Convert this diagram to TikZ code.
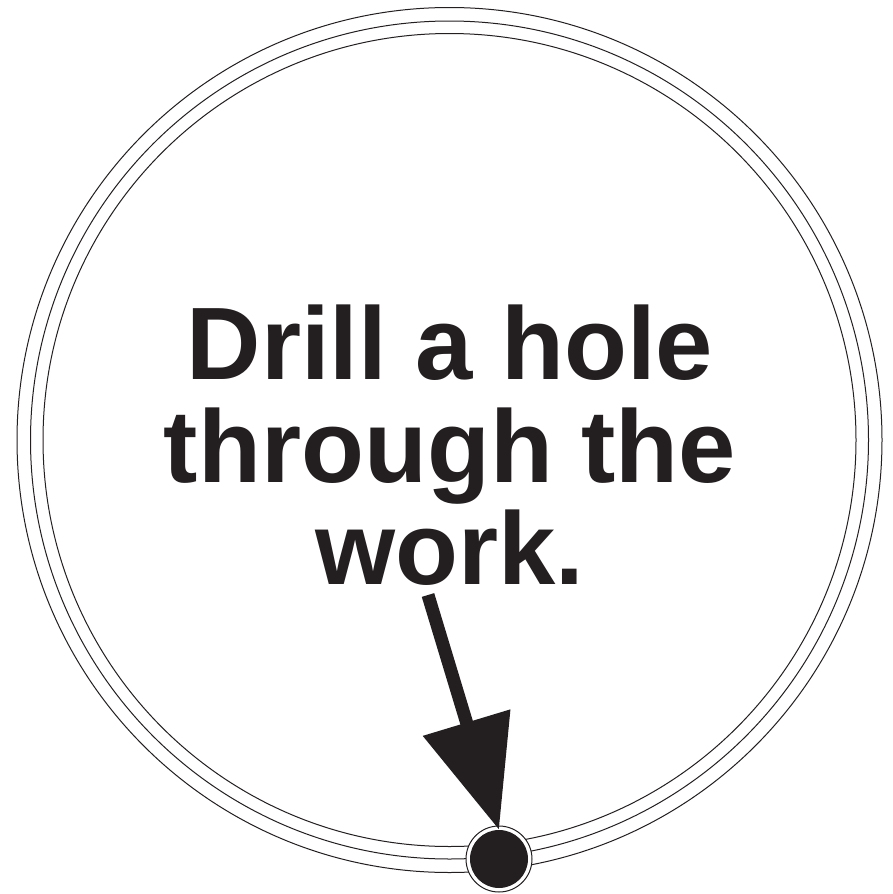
\documentclass[tikz,border=0pt]{standalone}
\usepackage{fontspec}
\setmainfont{Liberation Sans}
\usetikzlibrary{arrows.meta}
\definecolor{ink}{HTML}{231F20}
\begin{document}
\begin{tikzpicture}[x=1pt,y=-1pt,
  ringline/.style={circle,draw=ink,line width=1pt,inner sep=0pt},
  pointer/.style={draw=ink,line width=13pt,-{Triangle[length=112pt,width=88pt]}}]
\useasboundingbox (0,0) rectangle (893,894);
\fill[white] (0,0) rectangle (893,894);
\node[ringline,minimum size=865pt] (outer) at (449.5,440) {};
\node[ringline,minimum size=838pt] (middle) at (449.5,440) {};
\node[ringline,minimum size=813pt] (inner) at (449.5,440) {};
\node[ringline,fill=white,minimum size=66pt] (dotring) at (499,859) {};
\node[circle,fill=ink,minimum size=58pt,inner sep=0pt] (dot) at (499,859) {};
\node[text=ink,font=\fontsize{103}{102.5}\selectfont\bfseries,align=center,inner sep=0pt] (label) at (450,445.5) {Drill a hole\\through the\\work.};
\coordinate (start) at (428,595);
\draw[pointer] (start) -- (dot.north);
\end{tikzpicture}
\end{document}
